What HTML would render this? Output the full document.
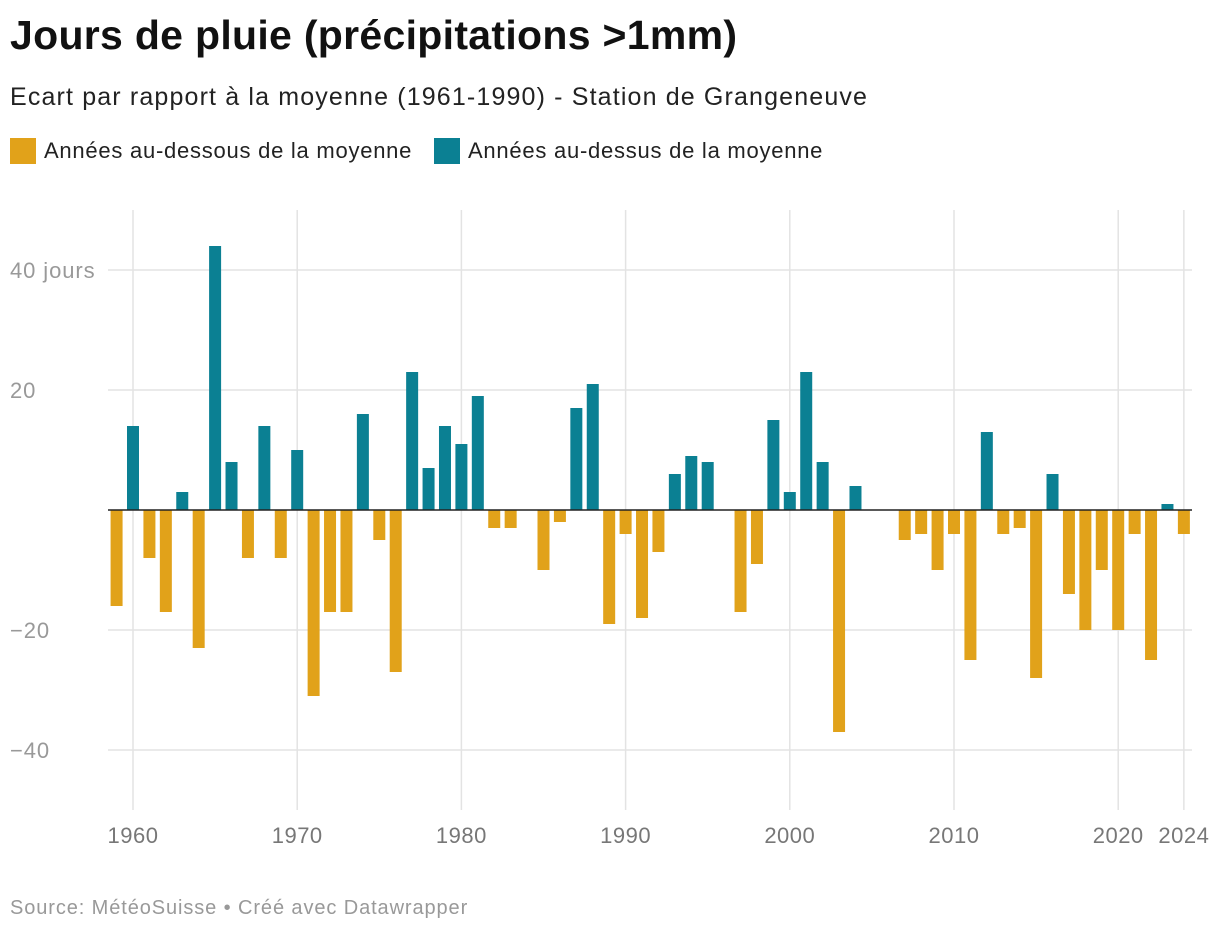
<!DOCTYPE html>
<html><head><meta charset="utf-8"><style>
body{margin:0;background:#fff;font-family:"Liberation Sans",sans-serif;}
#wrap{position:relative;width:1220px;height:934px;overflow:hidden;}
h1{position:absolute;left:10px;top:12px;margin:0;font-size:41px;letter-spacing:0.3px;font-weight:bold;color:#111;}
.sub{position:absolute;left:10px;top:83px;font-size:25px;letter-spacing:1.15px;color:#222;}
.leg{position:absolute;top:138px;font-size:22px;letter-spacing:0.75px;color:#222;display:flex;align-items:center;}
.sw{width:26px;height:26px;margin-right:8px;display:inline-block;}
.src{position:absolute;left:10px;top:897px;font-size:20px;letter-spacing:0.9px;color:#999;}
</style></head><body>
<div id="wrap">
<h1>Jours de pluie (précipitations &gt;1mm)</h1>
<div class="sub">Ecart par rapport à la moyenne (1961-1990) - Station de Grangeneuve</div>
<div class="leg" style="left:10px"><span class="sw" style="background:#e1a21a"></span>Années au-dessous de la moyenne</div>
<div class="leg" style="left:434px"><span class="sw" style="background:#0b8093"></span>Années au-dessus de la moyenne</div>
<svg id="svg" width="1220" height="934" style="position:absolute;left:0;top:0"></svg>
<div class="src">Source: MétéoSuisse • Créé avec Datawrapper</div>
</div>
<script>
const years=[];for(let y=1959;y<=2024;y++)years.push(y);
const values=[-16,14,-8,-17,3,-23,44,8,-8,14,-8,10,-31,-17,-17,16,-5,-27,23,7,14,11,19,-3,-3,0,-10,-2,17,21,-19,-4,-18,-7,6,9,8,0,-17,-9,15,3,23,8,-37,4,0,0,-5,-4,-10,-4,-25,13,-4,-3,-28,6,-14,-20,-10,-20,-4,-25,1,-4];
const yTicks=[40,20,-20,-40];
const yTickLabels=["40 jours","20","−20","−40"];
const xTicks=[1960,1970,1980,1990,2000,2010,2020,2024];
const svg=document.getElementById('svg');const NS="http://www.w3.org/2000/svg";
const x=yr=>133+(yr-1960)*16.42;
const y=v=>510-v*6;
function el(t,a){const e=document.createElementNS(NS,t);for(const k in a)e.setAttribute(k,a[k]);svg.appendChild(e);return e;}
xTicks.forEach(t=>{const l=el('line',{x1:x(t),x2:x(t),y1:210,y2:810,stroke:'#e3e3e3','stroke-width':1.5});


const tx=el('text',{x:x(t),y:843,'text-anchor':'middle','font-size':22,'letter-spacing':'0.5',fill:'#777','font-family':'Liberation Sans, sans-serif'});tx.textContent=t;

});
yTicks.forEach((t,i)=>{const l=el('line',{x1:108,x2:1192,y1:y(t),y2:y(t),stroke:'#e3e3e3','stroke-width':1.5});


const tx=el('text',{x:10,y:y(t)+8,'font-size':22,'letter-spacing':'0.9',fill:'#999','font-family':'Liberation Sans, sans-serif'});tx.textContent=yTickLabels[i];

});
years.forEach((yr,i)=>{const v=values[i];if(v===0)return;
const r=el('rect',{x:x(yr)-6,width:12,y:Math.min(y(v),y(0)),height:Math.abs(y(v)-y(0)),fill:v>0?'#0b8093':'#e1a21a'});

});
const z=el('line',{x1:108,x2:1192,y1:y(0),y2:y(0),stroke:'#222','stroke-width':1.5});


</script>
</body></html>
